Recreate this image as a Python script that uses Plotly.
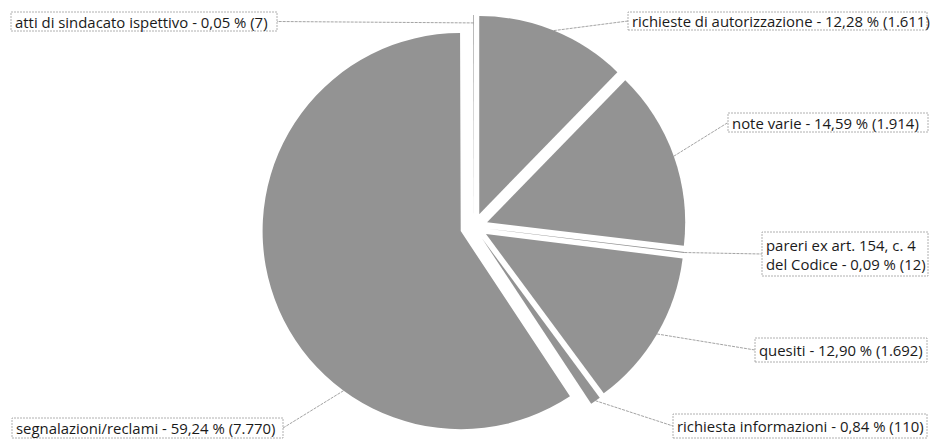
import math
import plotly.graph_objects as go

# Categories in clockwise order starting at 12 o'clock
categories = [
    "richieste di autorizzazione",
    "note varie",
    "pareri ex art. 154, c. 4<br>del Codice",
    "quesiti",
    "richiesta informazioni",
    "segnalazioni/reclami",
    "atti di sindacato ispettivo",
]
counts = [1611, 1914, 12, 1692, 110, 7770, 7]

W, H = 930, 439
CX, CY = 474, 227          # pie centre, px from top-left
PULL = 0.07
R = 212 / (1 + PULL)       # slice radius once the pull is reserved

FILL = "#939393"
TEXT = "#1a1a1a"
BOX_LINE = "#9c9c9c"
LEAD_LINE = "#8c8c8c"
FONT = dict(family="Open Sans", size=14.9, color=TEXT)

# Label boxes: (x0, y0, x1, y1) in px, and which side the leader attaches to
boxes = [
    (628, 12, 927, 30, "left"),
    (728, 113, 928, 132, "left"),
    (762, 232, 928, 276, "left"),
    (755, 338, 927, 362, "left"),
    (673, 414, 927, 438, "left"),
    (12, 418, 283, 438, "right"),
    (11, 12, 277, 31, "right"),
]
# Where the leader meets each slice: fraction across the slice and of the radius
anchor_frac = [0.5, 0.5, 0.5, 0.5, 0.5, 0.327, 0.5]
anchor_rad = [1.0, 1.0, 1.0, 1.0, 1.0, 1.0, 0.96]


def fmt_pct(v):
    return f"{v:.2f}".replace(".", ",")


def fmt_int(v):
    return f"{v:,}".replace(",", ".")


total = sum(counts)
labels = [
    f"{c} - {fmt_pct(100 * n / total)} % ({fmt_int(n)})"
    for c, n in zip(categories, counts)
]


def px(x, y):
    return x / W, 1 - y / H


fig = go.Figure()
fig.add_trace(
    go.Pie(
        values=counts,
        labels=[c.replace("<br>", " ") for c in categories],
        sort=False,
        direction="clockwise",
        rotation=0,
        pull=[PULL] * len(counts),
        marker=dict(colors=[FILL] * len(counts), line=dict(width=0)),
        textinfo="none",
        hoverinfo="label+value+percent",
        showlegend=False,
        domain=dict(x=[(CX - 212) / W, (CX + 212) / W], y=[0, 1 - (CY - 212) / H]),
    )
)

shapes = []
annotations = []
start = 0.0
for i, n in enumerate(counts):
    span = 360 * n / total
    mid = math.radians(start + span / 2)
    a = math.radians(start + span * anchor_frac[i])
    ox = CX + PULL * R * math.sin(mid)
    oy = CY - PULL * R * math.cos(mid)
    ax = ox + anchor_rad[i] * R * math.sin(a)
    ay = oy - anchor_rad[i] * R * math.cos(a)
    start += span

    x0, y0, x1, y1, side = boxes[i]
    ex = x0 if side == "left" else x1
    ey = (y0 + y1) / 2

    # leader line
    p0 = px(ax, ay)
    p1 = px(ex, ey)
    shapes.append(dict(type="line", xref="paper", yref="paper",
                       x0=p0[0], y0=p0[1], x1=p1[0], y1=p1[1],
                       line=dict(color=LEAD_LINE, width=0.8, dash="3px,1px")))
    # label frame
    b0 = px(x0, y1)
    b1 = px(x1, y0)
    shapes.append(dict(type="rect", xref="paper", yref="paper",
                       x0=b0[0], y0=b0[1], x1=b1[0], y1=b1[1],
                       line=dict(color=BOX_LINE, width=0.8, dash="2px,1px"),
                       fillcolor="rgba(255,255,255,0)"))
    tx, ty = px(x0 + 2, ey)
    annotations.append(dict(xref="paper", yref="paper", x=tx, y=ty,
                            xanchor="left", yanchor="middle", align="left",
                            text=labels[i], showarrow=False, font=FONT))

fig.update_layout(
    width=W, height=H,
    margin=dict(l=0, r=0, t=0, b=0),
    paper_bgcolor="white", plot_bgcolor="white",
    shapes=shapes, annotations=annotations,
)

fig.write_html("out.html")
